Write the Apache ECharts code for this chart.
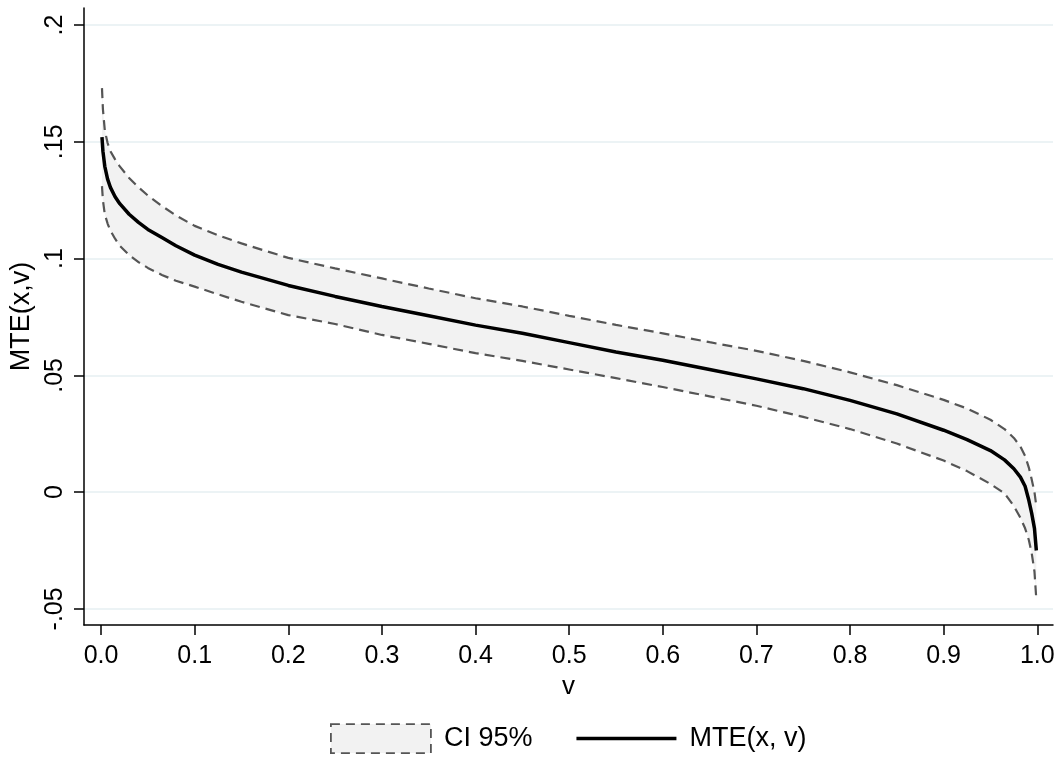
<!DOCTYPE html>
<html>
<head>
<meta charset="utf-8">
<script src="https://cdn.jsdelivr.net/npm/echarts@6/dist/echarts.min.js"></script>
<style>
  html, body { margin: 0; padding: 0; background: #fff; }
</style>
</head>
<body>
<div id="chart" style="width: 1060px; height: 771px;"></div>
<script>
// v grid and curves
const vValues = [0.001, 0.002, 0.004, 0.007, 0.01, 0.015, 0.02, 0.03, 0.04, 0.05, 0.065, 0.08, 0.1, 0.125, 0.15,
  0.2, 0.25, 0.3, 0.35, 0.4, 0.45, 0.5, 0.55, 0.6, 0.65, 0.7, 0.75, 0.8, 0.85, 0.9,
  0.925, 0.95, 0.965, 0.975, 0.982, 0.987, 0.991, 0.994, 0.997, 0.999];
const mteValues = [0.152, 0.146, 0.1395, 0.134, 0.1305, 0.1265, 0.1235, 0.119, 0.1155, 0.1125, 0.109, 0.1055, 0.1015, 0.0975, 0.0942,
  0.0885, 0.0838, 0.0795, 0.0755, 0.0715, 0.068, 0.064, 0.060, 0.0565, 0.0525, 0.0485, 0.0443, 0.0393, 0.0335, 0.0265,
  0.0225, 0.0178, 0.0138, 0.0100, 0.0064, 0.0025, -0.0035, -0.009, -0.0155, -0.025];
const upperValues = [0.173, 0.164, 0.155, 0.1495, 0.146, 0.1425, 0.1395, 0.1345, 0.1305, 0.127, 0.1225, 0.1185, 0.114, 0.110, 0.1065,
  0.1003, 0.0958, 0.0915, 0.0872, 0.083, 0.0795, 0.0755, 0.0716, 0.068, 0.0642, 0.0605, 0.0562, 0.0513, 0.0458, 0.0395,
  0.0358, 0.031, 0.027, 0.0232, 0.0195, 0.0155, 0.0105, 0.0055, 0.0, -0.006];
const lowerValues = [0.131, 0.125, 0.119, 0.115, 0.112, 0.1085, 0.1055, 0.1015, 0.0985, 0.096, 0.093, 0.0905, 0.088, 0.0847, 0.0815,
  0.0758, 0.072, 0.0673, 0.0635, 0.0595, 0.0562, 0.0525, 0.0488, 0.045, 0.041, 0.037, 0.0322, 0.027, 0.0208, 0.0135,
  0.009, 0.0035, -0.0005, -0.006, -0.011, -0.0155, -0.0205, -0.026, -0.034, -0.046];

const xTicks = [0, 0.1, 0.2, 0.3, 0.4, 0.5, 0.6, 0.7, 0.8, 0.9, 1.0];
const yTicks = [-0.05, 0, 0.05, 0.1, 0.15, 0.2];
const yTickLabels = ['-.05', '0', '.05', '.1', '.15', '.2'];

const pairs = (ys) => vValues.map((v, i) => [v, ys[i]]);

const font = 'Liberation Sans, Arial, sans-serif';
const myChart = echarts.init(document.getElementById('chart'));

myChart.setOption({
  animation: false,
  backgroundColor: '#fff',
  textStyle: { fontFamily: font },
  grid: { left: 84, right: 7, top: 8, bottom: 146 },
  legend: {
    bottom: 17,
    left: 330,
    padding: 0,
    itemWidth: 100,
    itemHeight: 29,
    itemGap: 44,
    textStyle: { fontSize: 27, color: '#000', fontFamily: font, padding: [0, 0, 0, 8] },
    data: [
      {
        name: 'CI 95%',
        icon: 'rect',
        itemStyle: { color: '#f2f2f2', borderColor: '#555', borderWidth: 1.8, borderType: [9, 6] }
      },
      {
        name: 'MTE(x, v)',
        icon: 'path://M0,0H100V3.5H0Z',
        itemStyle: { color: '#000' }
      }
    ]
  },
  xAxis: {
    type: 'value',
    min: -0.0182,
    max: 1.0168,
    name: 'v',
    nameLocation: 'middle',
    nameGap: 46,
    nameTextStyle: { fontSize: 26, color: '#000' },
    axisLine: { onZero: false, lineStyle: { color: '#000', width: 1.5 } },
    axisTick: { customValues: xTicks, length: 10, lineStyle: { color: '#000', width: 1.5 } },
    axisLabel: {
      customValues: xTicks,
      fontSize: 25,
      color: '#000',
      margin: 19,
      formatter: (v) => v.toFixed(1)
    },
    splitLine: { show: false }
  },
  yAxis: {
    type: 'value',
    min: -0.0569,
    max: 0.2073,
    name: 'MTE(x,v)',
    nameLocation: 'middle',
    nameRotate: 90,
    nameGap: 48,
    nameTextStyle: { fontSize: 27, color: '#000' },
    axisLine: { show: true, onZero: false, lineStyle: { color: '#000', width: 1.5 } },
    axisTick: { show: true, customValues: yTicks, length: 10, lineStyle: { color: '#000', width: 1.5 } },
    axisLabel: {
      customValues: yTicks,
      rotate: 90,
      fontSize: 25,
      color: '#000',
      margin: 16,
      formatter: (v) => {
        const i = yTicks.findIndex((t) => Math.abs(t - v) < 1e-9);
        return i >= 0 ? yTickLabels[i] : '';
      }
    },
    splitLine: { show: true, lineStyle: { color: '#e6eff2', width: 1.5 } }
  },
  series: [
    {
      name: 'CI 95%',
      type: 'custom',
      silent: true,
      z: 1,
      data: [[0, 0]],
      itemStyle: { color: '#f2f2f2' },
      renderItem: (params, api) => {
        const pts = [];
        vValues.forEach((v, i) => pts.push(api.coord([v, upperValues[i]])));
        for (let i = vValues.length - 1; i >= 0; i--) pts.push(api.coord([vValues[i], lowerValues[i]]));
        return {
          type: 'polygon',
          shape: { points: pts },
          style: { fill: '#f2f2f2', stroke: null }
        };
      }
    },
    {
      name: 'upper',
      type: 'line',
      data: pairs(upperValues),
      symbol: 'none',
      z: 3,
      lineStyle: { color: '#555', width: 2.2, type: [10, 6] }
    },
    {
      name: 'lower',
      type: 'line',
      data: pairs(lowerValues),
      symbol: 'none',
      z: 3,
      lineStyle: { color: '#555', width: 2.2, type: [10, 6] }
    },
    {
      name: 'MTE(x, v)',
      type: 'line',
      data: pairs(mteValues),
      symbol: 'none',
      z: 4,
      itemStyle: { color: '#000' },
      lineStyle: { color: '#000', width: 3.5 }
    }
  ]
});

window.onresize = function () {
  myChart.resize();
};
</script>
</body>
</html>
